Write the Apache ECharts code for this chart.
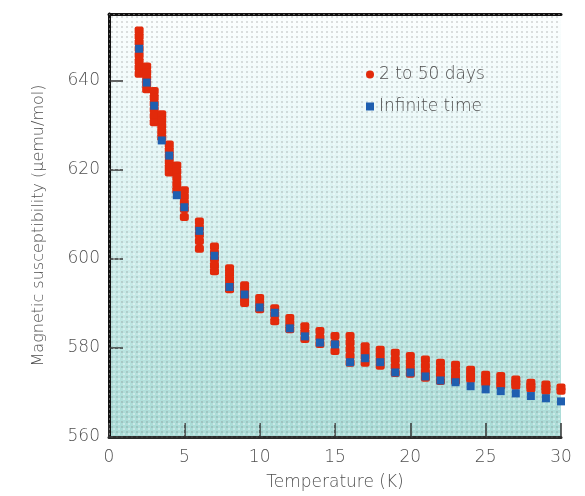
<!DOCTYPE html>
<html>
<head>
<meta charset="utf-8">
<script src="https://cdn.jsdelivr.net/npm/echarts@6/dist/echarts.min.js"></script>
<style>html,body{margin:0;padding:0;background:#fff}#c{width:585px;height:496px}</style>
</head>
<body>
<div id="c"></div>
<script>
// Temperatures (K)
var temps = [2, 2.5, 3, 3.5, 4, 4.5, 5, 6, 7, 8, 9, 10, 11, 12, 13, 14, 15, 16, 17, 18, 19, 20, 21, 22, 23, 24, 25, 26, 27, 28, 29, 30];
// "2 to 50 days" measurements at each temperature (µemu/mol)
var agedValues = [
  [651.3, 650.0, 648.6, 647.2, 645.8, 644.4, 643.0, 641.6],
  [643.2, 641.9, 640.6, 639.4, 638.1],
  [637.7, 636.3, 634.9, 633.5, 632.1, 630.7],
  [632.5, 631.2, 629.9, 628.6, 627.3],
  [625.7, 624.4, 623.1, 621.8, 620.6, 619.4],
  [621.0, 619.6, 618.2, 616.8, 615.4],
  [615.4, 614.0, 612.6, 611.2, 609.4],
  [608.4, 607.0, 605.5, 604.0, 602.3],
  [602.8, 601.4, 600.0, 598.6, 597.2],
  [597.9, 596.7, 595.5, 594.3, 593.2],
  [594.1, 593.0, 591.9, 591.0, 590.1],
  [591.2, 590.0, 588.7],
  [588.9, 587.5, 586.0],
  [586.7, 585.5, 584.2],
  [584.9, 583.5, 582.0],
  [583.8, 582.3, 580.9],
  [582.7, 581.0, 579.3],
  [582.7, 581.2, 579.7, 578.2, 576.7],
  [580.4, 579.2, 578.0, 576.7],
  [579.6, 578.4, 577.2, 576.0],
  [578.9, 577.4, 575.9, 574.4],
  [578.2, 576.8, 575.5, 574.2],
  [577.4, 576.0, 574.6, 573.3],
  [576.7, 575.3, 574.0, 572.6],
  [576.2, 574.9, 573.6, 572.6],
  [575.1, 574.0, 573.0],
  [574.0, 573.1, 572.2],
  [573.7, 572.6, 571.5],
  [572.9, 572.2, 571.5],
  [572.2, 571.5, 570.9],
  [571.8, 571.1, 570.4],
  [571.1, 570.4]
];
// "Infinite time" values at each temperature
var infiniteValues = [647.2, 639.6, 634.4, 626.6, 623.2, 614.3, 611.6, 606.3, 600.7, 593.7, 592.0, 589.1, 587.9, 584.4, 582.6, 581.2, 580.8, 576.8, 577.7, 576.8, 574.5, 574.5, 573.6, 572.7, 572.3, 571.4, 570.7, 570.3, 569.8, 569.2, 568.7, 568.0];
var xTicks = [0, 5, 10, 15, 20, 25, 30];
var yTicks = [560, 580, 600, 620, 640];
var seriesNames = ['2 to 50 days', 'Infinite time'];

var agedData = [];
temps.forEach(function (t, i) {
  agedValues[i].forEach(function (v) { agedData.push([t, v]); });
});
var infData = temps.map(function (t, i) { return [t, infiniteValues[i]]; });

// halftone dot texture for the plot background
var pc = document.createElement('canvas');
pc.width = 5; pc.height = 5;
var pctx = pc.getContext('2d');
pctx.fillStyle = 'rgba(110,110,110,0.22)';
pctx.fillRect(1, 1, 2, 2);
pctx.fillStyle = 'rgba(255,255,255,0.35)';
pctx.fillRect(3, 3, 2, 2);

var FONT = 'DejaVu Sans';
var TXT = '#505050';
var GL = 109, GR = 24, GT = 14, GB = 58, W = 585, H = 496;
var chart = echarts.init(document.getElementById('c'), null, {renderer: 'canvas'});
chart.setOption({
  animation: false,
  backgroundColor: '#ffffff',
  grid: {
    left: GL, right: GR, top: GT, bottom: GB,
    show: true, borderWidth: 0,
    backgroundColor: new echarts.graphic.LinearGradient(0, 0, 0, 1, [
      {offset: 0, color: '#fbfefe'},
      {offset: 0.25, color: '#eaf8f8'},
      {offset: 0.55, color: '#d0eeec'},
      {offset: 0.8, color: '#b9e3df'},
      {offset: 1, color: '#a9dbd6'}
    ])
  },
  graphic: [{
    type: 'rect', silent: true, z: 1, zlevel: 0,
    shape: {x: GL, y: GT, width: W - GL - GR, height: H - GT - GB},
    style: {fill: {image: pc, repeat: 'repeat'}}
  }],
  legend: {
    orient: 'vertical', left: 361, top: 61,
    itemWidth: 8, itemHeight: 8, itemGap: 15,
    textStyle: {fontFamily: FONT, fontSize: 17, color: TXT, fontWeight: 200},
    data: [{name: seriesNames[0], icon: 'circle'}, {name: seriesNames[1], icon: 'rect'}]
  },
  xAxis: [{
    type: 'value', min: xTicks[0], max: xTicks[xTicks.length - 1], interval: 5,
    name: 'Temperature (K)', nameLocation: 'middle', nameGap: 37,
    nameTextStyle: {fontFamily: FONT, fontSize: 17, color: TXT, fontWeight: 200},
    axisLine: {lineStyle: {color: '#2b2b2b', width: 3}},
    axisTick: {inside: true, length: 14, lineStyle: {color: '#333', width: 1.5}},
    axisLabel: {margin: 12, fontFamily: FONT, fontSize: 17, color: TXT, fontWeight: 200},
    splitLine: {show: false}
  }, {
    type: 'value', position: 'top', min: 0, max: 30,
    axisLine: {show: true, lineStyle: {color: '#111', width: 3}},
    axisTick: {show: false}, axisLabel: {show: false}, splitLine: {show: false}
  }],
  yAxis: [{
    type: 'value', min: yTicks[0], max: 655, interval: 20,
    name: 'Magnetic susceptibility (μemu/mol)', nameLocation: 'middle', nameGap: 62,
    nameTextStyle: {fontFamily: FONT, fontSize: 16, color: TXT, fontWeight: 200},
    axisLine: {show: true, lineStyle: {color: '#7a7a7a', width: 3}},
    axisTick: {inside: true, length: 14, lineStyle: {color: '#333', width: 1.5}},
    axisLabel: {margin: 9, fontFamily: FONT, fontSize: 17, color: TXT, fontWeight: 200, showMaxLabel: false},
    splitLine: {show: false}
  }, {
    type: 'value', position: 'right', min: 560, max: 655,
    axisLine: {show: true, lineStyle: {color: '#111', width: 3}},
    axisTick: {show: false}, axisLabel: {show: false}, splitLine: {show: false}
  }],
  series: [{
    name: seriesNames[0], type: 'scatter', data: agedData,
    symbol: 'roundRect', symbolSize: [9, 8], z: 2,
    itemStyle: {color: '#e22a0b', opacity: 1}
  }, {
    name: seriesNames[1], type: 'scatter', data: infData,
    symbol: 'rect', symbolSize: [8, 8], z: 3,
    itemStyle: {color: '#1f5fb0', opacity: 1}
  }]
});
</script>
</body>
</html>
